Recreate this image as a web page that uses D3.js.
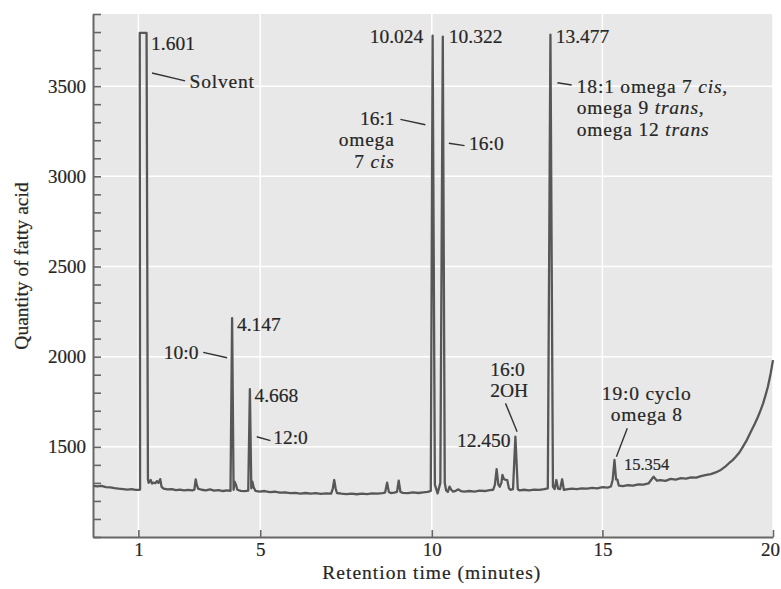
<!DOCTYPE html>
<html>
<head>
<meta charset="utf-8">
<script src="https://cdn.jsdelivr.net/npm/d3@7"></script>
<style>
  body { margin: 0; background: #fff; overflow: hidden; }
  svg { display: block; }
  svg text { font-family: "Liberation Serif", serif; fill: #262626; stroke: #262626; stroke-width: 0.2px; }
</style>
</head>
<body>
<div class="canvas"></div>
<script>
// retention time (min), quantity of fatty acid
const chromatogram = [
  [0.07, 1283], [0.2, 1281], [0.32, 1284], [0.45, 1277], [0.58, 1275], [0.7, 1271],
  [0.82, 1268], [0.95, 1266], [1.08, 1263], [1.2, 1265], [1.32, 1261], [1.43, 1262],
  [1.45, 1264], [1.44, 3795], [1.64, 3795], [1.68, 1320], [1.7, 1300], [1.76, 1316],
  [1.8, 1296], [1.84, 1301], [1.9, 1298], [1.94, 1310], [1.99, 1300], [2.04, 1321],
  [2.08, 1278], [2.14, 1268], [2.25, 1264], [2.38, 1266], [2.5, 1260], [2.62, 1263],
  [2.74, 1258], [2.86, 1261], [2.98, 1259], [3.04, 1262], [3.08, 1320], [3.11, 1290],
  [3.15, 1268], [3.25, 1262], [3.38, 1258], [3.5, 1264], [3.62, 1257], [3.75, 1260],
  [3.88, 1255], [4.0, 1258], [4.1, 1256], [4.147, 2214], [4.19, 1262], [4.22, 1307],
  [4.26, 1290], [4.3, 1262], [4.4, 1256], [4.52, 1254], [4.62, 1257], [4.668, 1820],
  [4.71, 1270], [4.74, 1307], [4.78, 1275], [4.83, 1256], [4.95, 1252], [5.1, 1255],
  [5.25, 1249], [5.4, 1251], [5.55, 1246], [5.7, 1248], [5.85, 1243], [6.0, 1245],
  [6.15, 1241], [6.3, 1244], [6.45, 1240], [6.6, 1243], [6.75, 1239], [6.9, 1242],
  [7.05, 1240], [7.1, 1270], [7.14, 1316], [7.18, 1270], [7.22, 1244], [7.35, 1240],
  [7.5, 1238], [7.65, 1241], [7.8, 1237], [7.95, 1240], [8.1, 1238], [8.25, 1242],
  [8.4, 1240], [8.55, 1243], [8.63, 1246], [8.69, 1301], [8.74, 1250], [8.8, 1244],
  [8.9, 1246], [8.98, 1250], [9.03, 1312], [9.08, 1250], [9.15, 1245], [9.3, 1243],
  [9.45, 1247], [9.6, 1244], [9.75, 1248], [9.88, 1250], [9.97, 1256], [10.024, 3780],
  [10.09, 1290], [10.17, 1242], [10.25, 1300], [10.322, 3775], [10.38, 1300], [10.42, 1258],
  [10.47, 1250], [10.52, 1279], [10.57, 1262], [10.62, 1252], [10.7, 1256], [10.78, 1264],
  [10.85, 1255], [10.95, 1252], [11.1, 1255], [11.25, 1252], [11.4, 1257], [11.55, 1255],
  [11.7, 1260], [11.8, 1262], [11.85, 1290], [11.9, 1376], [11.95, 1290], [11.99, 1279],
  [12.04, 1300], [12.07, 1344], [12.11, 1322], [12.15, 1318], [12.21, 1316], [12.26, 1270],
  [12.31, 1261], [12.38, 1265], [12.45, 1557], [12.52, 1265], [12.58, 1258], [12.7, 1262],
  [12.85, 1259], [13.0, 1263], [13.15, 1261], [13.3, 1266], [13.4, 1270], [13.477, 3785],
  [13.55, 1280], [13.6, 1266], [13.65, 1316], [13.7, 1268], [13.76, 1266], [13.82, 1320],
  [13.87, 1262], [13.95, 1264], [14.1, 1268], [14.25, 1265], [14.4, 1270], [14.55, 1268],
  [14.7, 1272], [14.85, 1270], [15.0, 1276], [15.15, 1274], [15.25, 1280], [15.3, 1316],
  [15.354, 1427], [15.4, 1320], [15.44, 1318], [15.48, 1285], [15.6, 1282], [15.75, 1287],
  [15.9, 1285], [16.05, 1292], [16.2, 1290], [16.35, 1297], [16.5, 1334], [16.6, 1312],
  [16.7, 1316], [16.85, 1311], [17.0, 1322], [17.15, 1318], [17.3, 1326], [17.45, 1324],
  [17.6, 1331], [17.75, 1329], [17.89, 1338], [18.05, 1344], [18.18, 1349], [18.32, 1358],
  [18.47, 1372], [18.6, 1390], [18.71, 1409], [18.81, 1425], [18.91, 1445], [19.02, 1470],
  [19.12, 1501], [19.24, 1540], [19.35, 1584], [19.46, 1625], [19.56, 1667], [19.64, 1705],
  [19.71, 1741], [19.78, 1785], [19.85, 1833], [19.93, 1905], [20.0, 1981],
];

const xTickValues = [1.4, 4.97, 10, 15, 20];
const xTickLabels = ["1", "5", "10", "15", "20"];
const yLabelValues = [1500, 2000, 2500, 3000, 3500];

// text labels, anchored at the first baseline (time, quantity)
const peakLabels = [
  { lines: ["1.601"], t: 1.77, q: 3700, anchor: "start" },
  { lines: ["Solvent"], t: 2.9, q: 3490, anchor: "start" },
  { lines: ["4.147"], t: 4.29, q: 2142, anchor: "start" },
  { lines: ["10:0"], t: 3.16, q: 1987, anchor: "end" },
  { lines: ["4.668"], t: 4.8, q: 1750, anchor: "start" },
  { lines: ["12:0"], t: 5.35, q: 1514, anchor: "start" },
  { lines: ["10.024"], t: 9.75, q: 3739, anchor: "end" },
  { lines: ["10.322"], t: 10.5, q: 3739, anchor: "start" },
  { lines: ["13.477"], t: 13.63, q: 3739, anchor: "start" },
  { lines: ["16:1", "omega", "7 _cis_"], t: 8.91, q: 3285, anchor: "end" },
  { lines: ["16:0"], t: 11.09, q: 3146, anchor: "start" },
  { lines: ["18:1 omega 7 _cis_,", "omega 9 _trans_,", "omega 12 _trans_"], t: 14.25, q: 3464, anchor: "start" },
  { lines: ["16:0", "2OH"], t: 11.71, q: 1893, anchor: "start" },
  { lines: ["12.450"], t: 12.31, q: 1501, anchor: "end" },
  { lines: ["19:0 cyclo", "omega 8"], t: 16.3, q: 1760, anchor: "middle" },
  { lines: ["15.354"], t: 15.63, q: 1372, anchor: "start", small: true },
];

// leader lines [t1, q1, t2, q2]
const leaders = [
  [1.8, 3573, 2.77, 3529],
  [3.3, 2024, 4.0, 1994],
  [4.87, 1556, 5.27, 1534],
  [9.08, 3316, 9.81, 3286],
  [10.5, 3183, 10.96, 3170],
  [13.68, 3519, 14.1, 3506],
  [12.16, 1741, 12.5, 1584],
  [15.73, 1603, 15.41, 1445],
];

const width = 781;
const height = 589;
const margin = { top: 14, right: 8, bottom: 52, left: 93 };
const innerWidth = width - margin.left - margin.right;
const innerHeight = height - margin.top - margin.bottom;

const x = d3.scaleLinear().domain([0.07, 20]).range([0, innerWidth]);
const y = d3.scaleLinear().domain([1000, 3900]).range([innerHeight, 0]);

// words in Palatino run wider than in Liberation Serif
const spacingFor = (s) => (/[a-z]/.test(s) ? 0.8 : 0);

const svg = d3
  .select(".canvas")
  .append("svg")
  .attr("width", width)
  .attr("height", height);

const chart = svg
  .append("g")
  .attr("transform", `translate(${margin.left}, ${margin.top})`);

chart
  .append("rect")
  .attr("width", innerWidth)
  .attr("height", innerHeight)
  .attr("fill", "#e8e8e8");

// grid
chart
  .selectAll(".vgrid")
  .data(xTickValues)
  .enter()
  .append("line")
  .attr("x1", (d) => x(d))
  .attr("x2", (d) => x(d))
  .attr("y1", 0)
  .attr("y2", innerHeight)
  .attr("stroke", "#fff")
  .attr("stroke-width", 1.5);

chart
  .selectAll(".hgrid")
  .data(yLabelValues)
  .enter()
  .append("line")
  .attr("x1", 0)
  .attr("x2", innerWidth)
  .attr("y1", (d) => y(d))
  .attr("y2", (d) => y(d))
  .attr("stroke", "#fff")
  .attr("stroke-width", 1.5);

// axes
const xAxis = d3
  .axisBottom(x)
  .tickValues(xTickValues)
  .tickFormat((d, i) => xTickLabels[i])
  .tickSizeInner(-7)
  .tickSizeOuter(0)
  .tickPadding(6);

const yAxis = d3
  .axisLeft(y)
  .tickValues(d3.range(1000, 3901, 100))
  .tickFormat((d) => (yLabelValues.includes(d) ? d : ""))
  .tickSizeInner(-8)
  .tickSizeOuter(0)
  .tickPadding(7);

const gx = chart
  .append("g")
  .attr("transform", `translate(0, ${innerHeight})`)
  .call(xAxis);

const gy = chart.append("g").call(yAxis);

gy.selectAll(".tick text")
  .filter((d) => !yLabelValues.includes(d))
  .remove();

gx.selectAll(".tick text")
  .filter((d) => d === 20)
  .attr("dx", -3);

[gx, gy].forEach((g) => {
  g.select(".domain").attr("stroke", "#666").attr("stroke-width", 2);
  g.selectAll(".tick line").attr("stroke", "#666").attr("stroke-width", 1.6);
  g.selectAll(".tick text")
    .attr("font-size", 19)
    .attr("font-family", "Liberation Serif")
    .attr("fill", "#262626");
});

// trace
const line = d3
  .line()
  .x((d) => x(d[0]))
  .y((d) => y(d[1]));

chart
  .append("path")
  .datum(chromatogram)
  .attr("d", line)
  .attr("fill", "none")
  .attr("stroke", "#575757")
  .attr("stroke-width", 2.3)
  .attr("stroke-linejoin", "round");

// leaders
chart
  .selectAll(".leader")
  .data(leaders)
  .enter()
  .append("line")
  .attr("x1", (d) => x(d[0]))
  .attr("y1", (d) => y(d[1]))
  .attr("x2", (d) => x(d[2]))
  .attr("y2", (d) => y(d[3]))
  .attr("stroke", "#333")
  .attr("stroke-width", 1.4);

// labels, "_cis_" marks italic words
peakLabels.forEach((label) => {
  label.lines.forEach((str, i) => {
    const text = chart
      .append("text")
      .attr("x", x(label.t))
      .attr("y", y(label.q) + i * 21.5)
      .attr("text-anchor", label.anchor)
      .attr("font-size", label.small ? 16.5 : 19.5)
      .attr("letter-spacing", spacingFor(str));
    if (!str.includes("_")) {
      text.text(str);
      return;
    }
    str.split("_").forEach((part, j) => {
      if (!part) return;
      text
        .append("tspan")
        .attr("font-style", j % 2 ? "italic" : "normal")
        .text(part);
    });
  });
});

// axis titles
svg
  .append("text")
  .attr("x", margin.left + x(10))
  .attr("y", 579)
  .attr("text-anchor", "middle")
  .attr("font-size", 19.5)
  .attr("letter-spacing", 1)
  .text("Retention time (minutes)");

svg
  .append("text")
  .attr("transform", `translate(28, 266) rotate(-90)`)
  .attr("text-anchor", "middle")
  .attr("font-size", 19.5)
  .text("Quantity of fatty acid");
</script>
</body>
</html>
